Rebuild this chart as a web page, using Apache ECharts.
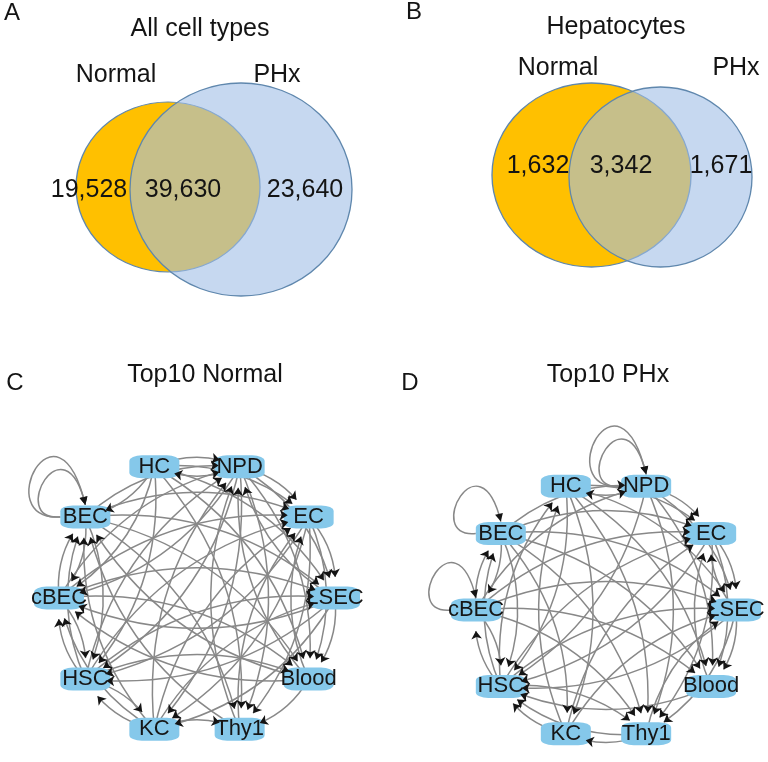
<!DOCTYPE html>
<html><head><meta charset="utf-8">
<script src="https://cdn.jsdelivr.net/npm/echarts@6/dist/echarts.min.js"></script>
<style>html,body{margin:0;padding:0;background:#fff}#chart{width:768px;height:762px}</style>
</head><body><div id="chart"></div>
<script>
// ---------------- data ----------------
const panelLetters = ['A', 'B', 'C', 'D'];
const vennTitles = ['All cell types', 'Hepatocytes'];
const vennSets = ['Normal', 'PHx'];
const vennRegions = ['Normal only', 'Both', 'PHx only'];
const countsAll = [19528, 39630, 23640];
const countsHep = [1632, 3342, 1671];
const netTitles = ['Top10 Normal', 'Top10 PHx'];
const cellTypes = ['LSEC', 'Blood', 'Thy1', 'KC', 'HSC', 'cBEC', 'BEC', 'HC', 'NPD', 'EC'];
const linksNormal = [
  ['HC','NPD'],['BEC','NPD'],['cBEC','NPD'],['HSC','NPD'],['KC','NPD'],['Thy1','NPD'],['Blood','NPD'],['LSEC','NPD'],
  ['NPD','HC'],
  ['HC','BEC'],['cBEC','BEC'],['HSC','BEC'],['KC','BEC'],['Thy1','BEC'],['Blood','BEC'],
  ['HC','EC'],['NPD','EC'],['BEC','EC'],['cBEC','EC'],['HSC','EC'],['KC','EC'],['Thy1','EC'],['Blood','EC'],
  ['HC','LSEC'],['NPD','LSEC'],['EC','LSEC'],['BEC','LSEC'],['cBEC','LSEC'],['HSC','LSEC'],['KC','LSEC'],
  ['HC','Blood'],['NPD','Blood'],['EC','Blood'],['LSEC','Blood'],['BEC','Blood'],['cBEC','Blood'],['HSC','Blood'],
  ['HC','Thy1'],['BEC','Thy1'],['KC','Thy1'],['Blood','Thy1'],['NPD','Thy1'],['EC','Thy1'],
  ['HSC','KC'],['NPD','KC'],['EC','KC'],['LSEC','KC'],
  ['HC','HSC'],['BEC','HSC'],['cBEC','HSC'],['NPD','HSC'],['EC','HSC'],['LSEC','HSC'],['KC','HSC'],
  ['HC','cBEC'],['BEC','cBEC'],['HSC','cBEC'],['KC','cBEC'],['LSEC','cBEC'],['Blood','cBEC'],['NPD','cBEC']
];
const linksPHx = [
  ['NPD','HC'],['KC','HC'],['HSC','HC'],
  ['BEC','NPD'],['cBEC','NPD'],
  ['cBEC','BEC'],['HSC','BEC'],
  ['HC','EC'],['NPD','EC'],['BEC','EC'],['cBEC','EC'],['HSC','EC'],['KC','EC'],['LSEC','EC'],['Blood','EC'],
  ['NPD','LSEC'],['EC','LSEC'],['BEC','LSEC'],['cBEC','LSEC'],['HC','LSEC'],['HSC','LSEC'],['KC','LSEC'],['Thy1','LSEC'],
  ['HSC','cBEC'],['BEC','cBEC'],
  ['BEC','HSC'],['cBEC','HSC'],['HC','HSC'],['NPD','HSC'],['EC','HSC'],['LSEC','HSC'],['Blood','HSC'],['Thy1','HSC'],['KC','HSC'],
  ['BEC','Blood'],['cBEC','Blood'],['NPD','Blood'],['HC','Blood'],['EC','Blood'],['LSEC','Blood'],
  ['BEC','Thy1'],['cBEC','Thy1'],['NPD','Thy1'],['HC','Thy1'],['LSEC','Thy1'],['EC','Thy1'],['HSC','Thy1'],
  ['HC','KC'],['Thy1','KC'],['BEC','KC']
];
const loopsNormal = ['BEC', 'BEC'];
const loopsPHx = ['NPD', 'NPD', 'BEC', 'cBEC'];

// ---------------- layout & style ----------------
const FONT = "'Liberation Sans', Arial, Helvetica, sans-serif";
const RING = 1;
const ELLIPSE = 'path://M0,50A50,50,0,1,1,100,50A50,50,0,1,1,0,50Z';
const EDGE_COLOR = '#888888';
const ARROW_COLOR = '#141414';
const CURVE = 0.22;
const SET_STYLE = [
  { color: '#FFC000', borderColor: '#5F87AD', borderWidth: 1.3, opacity: 1 },
  { color: 'rgba(160,190,230,0.6)', borderColor: '#5F87AD', borderWidth: 1.3, opacity: 1 }
];
const LAYOUT = {
  venn: [
    { box: [0, 0, 384, 330], sets: [{ c: [168, 187], size: [184, 170] }, { c: [241, 189.5], size: [222, 213] }],
      regions: [[89, 190], [183, 190], [305, 190]], setLabels: [[116, 75], [277, 75]], title: [200, 29], letter: [12, 13] },
    { box: [384, 0, 384, 330], sets: [{ c: [591.5, 175], size: [199, 184] }, { c: [660.5, 177], size: [183, 180] }],
      regions: [[538, 166], [621, 166], [721, 166]], setLabels: [[558, 68], [736, 68]], title: [616, 27], letter: [414, 12] }
  ],
  net: [
    { center: [197, 598], radius: 138, title: [205, 375], letter: [15, 383] },
    { center: [606, 610], radius: 130, title: [608, 375], letter: [410, 383] }
  ]
};
const fmt = v => String(v).replace(/\B(?=(\d{3})+(?!\d))/g, ',');

function txt(x, y, text, size) {
  return { type: 'text', x: x, y: y, silent: true,
    style: { text: text, fontSize: size, fontFamily: FONT, fill: '#141414', align: 'center', verticalAlign: 'middle' } };
}

const graphics = [];
[countsAll, countsHep].forEach((c, i) => {
  const g = LAYOUT.venn[i];
  graphics.push(txt(g.letter[0], g.letter[1], panelLetters[i], 24));
  graphics.push(txt(g.title[0], g.title[1], vennTitles[i], 25));
  vennSets.forEach((s, j) => graphics.push(txt(g.setLabels[j][0], g.setLabels[j][1], s, 25)));
});
netTitles.forEach((t, i) => {
  const n = LAYOUT.net[i];
  graphics.push(txt(n.letter[0], n.letter[1], panelLetters[i + 2], 24));
  graphics.push(txt(n.title[0], n.title[1], t, 25));
});

const series = [];
[countsAll, countsHep].forEach((counts, i) => {
  const g = LAYOUT.venn[i];
  series.push({
    type: 'scatter', xAxisIndex: i, yAxisIndex: i, symbol: ELLIPSE, silent: true, z: 1,
    data: vennSets.map((s, j) => ({ name: s, value: g.sets[j].c, symbolSize: g.sets[j].size, itemStyle: SET_STYLE[j] }))
  });
  series.push({
    type: 'scatter', xAxisIndex: i, yAxisIndex: i, symbolSize: 1, silent: true, z: 3,
    itemStyle: { color: 'transparent', opacity: 1 },
    label: { show: true, position: 'inside', fontSize: 25, fontFamily: FONT, color: '#141414', opacity: 1,
      textBorderWidth: 0, formatter: p => fmt(p.value[2]) },
    data: counts.map((v, j) => ({ name: vennRegions[j], value: [g.regions[j][0], g.regions[j][1], v] }))
  });
});

function loopRenderer(loops) {
  return function (params, api) {
    const p = api.coord([api.value(0), api.value(1)]);
    const name = loops[params.dataIndex];
    let k = 0;
    for (let i = 0; i < params.dataIndex; i++) if (loops[i] === name) k++;
    const s = 1.05 + 0.35 * k;
    const sx = p[0] - 25, sy = p[1];
    const ex = p[0], ey = p[1] - 12;
    const c1 = [sx - 51 * s, sy + 5];
    const c2 = [ex - 20 * s, ey - 84 * s];
    let dx = ex - c2[0], dy = ey - c2[1];
    const L = Math.sqrt(dx * dx + dy * dy); dx /= L; dy /= L;
    const bx = ex - dx * 8, by = ey - dy * 8;
    return { type: 'group', children: [
      { type: 'bezierCurve', shape: { x1: sx, y1: sy, x2: ex, y2: ey, cpx1: c1[0], cpy1: c1[1], cpx2: c2[0], cpy2: c2[1] },
        style: { stroke: EDGE_COLOR, lineWidth: 1.5, fill: 'none' } },
      { type: 'polygon', shape: { points: [[ex, ey], [bx - dy * 4, by + dx * 4], [bx + dy * 4, by - dx * 4]] },
        style: { fill: ARROW_COLOR } }
    ] };
  };
}

[[linksNormal, loopsNormal], [linksPHx, loopsPHx]].forEach(([links, loops], i) => {
  const nodes = cellTypes.map(n => ({ name: n, value: [RING, n] }));
  const edges = links.map(([s, t]) => ({ source: s, target: t }));
  const common = { type: 'graph', coordinateSystem: 'polar', polarIndex: i, layout: 'none', silent: true };
  series.push(Object.assign({}, common, {
    data: nodes, links: edges, symbol: 'circle', symbolSize: 42, itemStyle: { opacity: 0 }, label: { show: false },
    edgeSymbol: ['none', 'arrow'], edgeSymbolSize: [0, 0],
    lineStyle: { color: EDGE_COLOR, width: 1.5, opacity: 1, curveness: CURVE }, z: 2
  }));
  series.push({ type: 'custom', coordinateSystem: 'polar', polarIndex: i, silent: true, z: 2,
    data: loops.map(n => [RING, n]), renderItem: loopRenderer(loops) });
  series.push(Object.assign({}, common, {
    data: nodes, links: [], symbol: 'roundRect', symbolSize: [50, 23], itemStyle: { color: '#85C8EA', opacity: 1 },
    label: { show: true, position: 'inside', fontSize: 22, fontFamily: FONT, color: '#161616' }, z: 3
  }));
  series.push(Object.assign({}, common, {
    data: nodes, links: edges, symbol: 'circle', symbolSize: 42, itemStyle: { opacity: 0 }, label: { show: false },
    edgeSymbol: ['none', 'arrow'], edgeSymbolSize: [0, 8],
    lineStyle: { color: ARROW_COLOR, width: 0, opacity: 1, curveness: CURVE }, z: 4
  }));
});

const chart = echarts.init(document.getElementById('chart'), null, { renderer: 'canvas' });
chart.setOption({
  animation: false,
  backgroundColor: '#ffffff',
  graphic: graphics,
  grid: LAYOUT.venn.map(g => ({ left: g.box[0], top: g.box[1], width: g.box[2], height: g.box[3], show: false })),
  xAxis: LAYOUT.venn.map((g, i) => ({ gridIndex: i, type: 'value', min: g.box[0], max: g.box[0] + g.box[2], show: false })),
  yAxis: LAYOUT.venn.map((g, i) => ({ gridIndex: i, type: 'value', min: g.box[1], max: g.box[1] + g.box[3], inverse: true, show: false })),
  polar: LAYOUT.net.map(n => ({ center: n.center, radius: n.radius })),
  angleAxis: LAYOUT.net.map((n, i) => ({ polarIndex: i, type: 'category', data: cellTypes, startAngle: 0, clockwise: true, boundaryGap: false, show: false })),
  radiusAxis: LAYOUT.net.map((n, i) => ({ polarIndex: i, type: 'value', min: 0, max: RING, show: false })),
  series: series
});
</script>
</body></html>
